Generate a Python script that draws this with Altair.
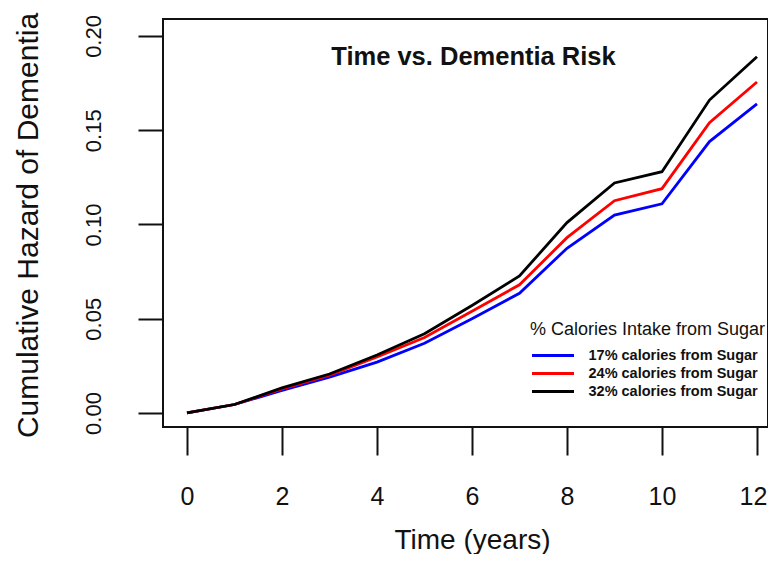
import altair as alt
import pandas as pd

years = list(range(0, 13))
series_names = ["17% calories from Sugar", "24% calories from Sugar", "32% calories from Sugar"]
series_colors = ["#0000ff", "#ff0000", "#000000"]
blue = [0.0, 0.0045, 0.012, 0.019, 0.027, 0.037, 0.050, 0.0635, 0.0874, 0.105, 0.111, 0.144, 0.164]
red = [0.0, 0.0045, 0.0128, 0.020, 0.0297, 0.040, 0.054, 0.068, 0.093, 0.1126, 0.119, 0.154, 0.1756]
black = [0.0, 0.0045, 0.0133, 0.0207, 0.0308, 0.042, 0.057, 0.0727, 0.101, 0.122, 0.128, 0.166, 0.189]
x_ticks = [0, 2, 4, 6, 8, 10, 12]
y_ticks = [0.0, 0.05, 0.10, 0.15, 0.20]

rows = []
for name, vals in zip(series_names, [blue, red, black]):
    for t, v in zip(years, vals):
        rows.append({"time": t, "hazard": v, "group": name})
df = pd.DataFrame(rows)

FONT = "Liberation Sans"

chart = alt.Chart(df).mark_line(strokeWidth=2.8).encode(
    x=alt.X("time:Q",
            scale=alt.Scale(domain=[-0.505, 12.232], nice=False, zero=False),
            axis=alt.Axis(values=x_ticks, format="d", title="Time (years)",
                          domain=False, grid=False, ticks=True, tickSize=28,
                          tickWidth=2, tickColor="#111111",
                          labelFontSize=25, labelColor="#111111", labelPadding=29,
                          labelBaseline="top", labelFlush=False,
                          labelOffset=alt.condition("datum.value == 12", alt.value(-4), alt.value(0)),
                          titleFontSize=28, titleFontWeight="normal", titleColor="#111111",
                          titleBaseline="alphabetic", titleY=121, titleX=309,
                          titleAlign="center", titleAnchor="start")),
    y=alt.Y("hazard:Q",
            scale=alt.Scale(domain=[-0.00743, 0.209], nice=False, zero=False),
            axis=alt.Axis(values=y_ticks, format=".2f", title="Cumulative Hazard of Dementia",
                          domain=False, grid=False, ticks=True, tickSize=25,
                          tickWidth=2, tickColor="#111111",
                          labelFontSize=22, labelColor="#111111", labelPadding=38,
                          labelAngle=270, labelAlign="center", labelBaseline="alphabetic",
                          labelFlush=False,
                          titleFontSize=30, titleFontWeight="normal", titleColor="#111111",
                          titleAngle=270, titleBaseline="alphabetic", titleAlign="center",
                          titleX=-126, titleY=206, titleAnchor="start")),
    color=alt.Color("group:N",
                    scale=alt.Scale(domain=series_names, range=series_colors),
                    sort=series_names,
                    legend=alt.Legend(title="% Calories Intake from Sugar",
                                      orient="none", legendX=367, legendY=302,
                                      padding=0, titleFontSize=18, titleFontWeight="normal",
                                      titleColor="#111111", titlePadding=8, titleLimit=0,
                                      labelFontSize=14.5, labelFontWeight="bold",
                                      labelColor="#111111", labelLimit=0,
                                      symbolType="M-3,0H3", symbolSize=196,
                                      symbolStrokeWidth=2.8, symbolOffset=14.5,
                                      labelOffset=27, rowPadding=3)),
    order=alt.Order("group:N"),
).properties(
    width=605,
    height=408,
    title=alt.TitleParams("Time vs. Dementia Risk", fontSize=25.5, fontWeight="bold",
                          color="#111111", anchor="middle", frame="group",
                          baseline="alphabetic", offset=0, dy=78, dx=8),
    padding={"left": 155, "top": 11, "right": 0, "bottom": 127},
    autosize=alt.AutoSizeParams(type="none"),
).configure(
    font=FONT,
).configure_view(
    stroke="#111111", strokeWidth=2,
)

chart.save("out.html", embed_options={"renderer": "svg", "actions": False})
